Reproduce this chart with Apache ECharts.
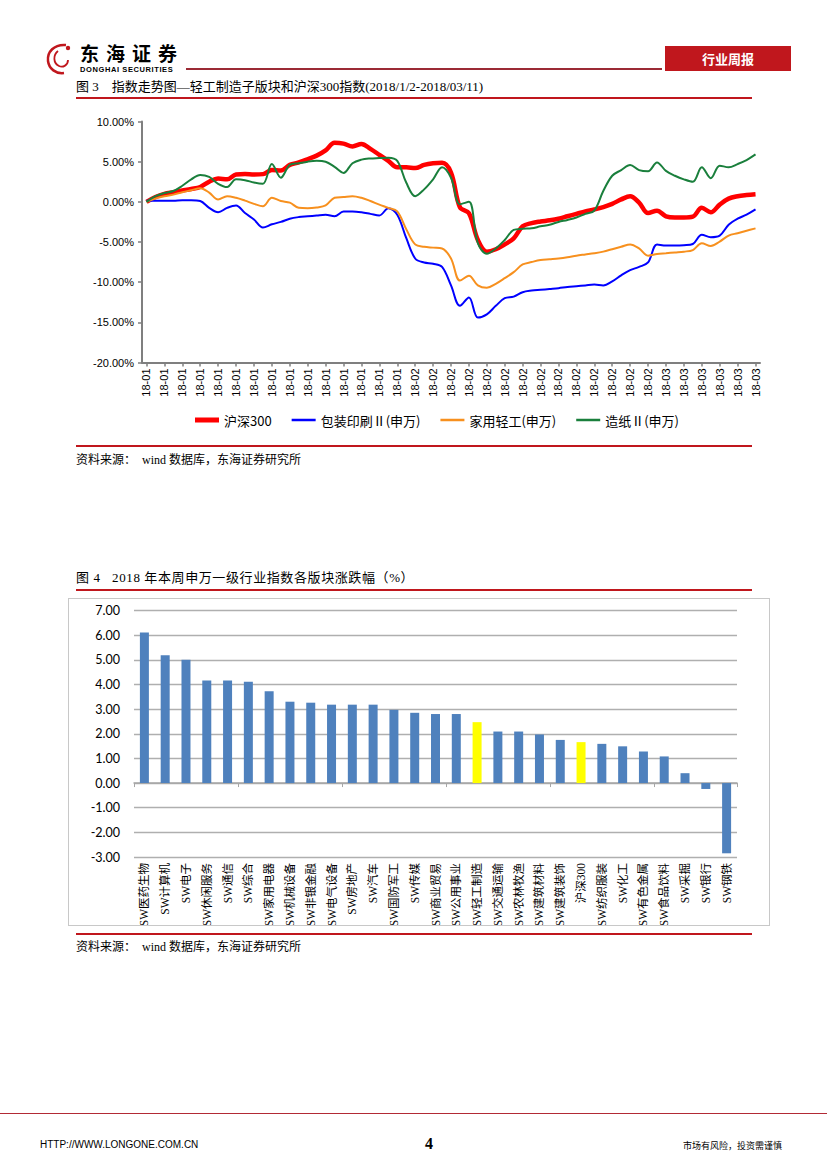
<!DOCTYPE html>
<html><head><meta charset="utf-8">
<script src="https://cdn.jsdelivr.net/npm/echarts@6.0.0/dist/echarts.min.js"></script>
<style>
html,body{margin:0;padding:0;background:#fff;}
#page{position:relative;width:827px;height:1170px;overflow:hidden;background:#fff;}
#c{position:absolute;left:0;top:0;width:827px;height:1170px;}
.t{position:absolute;white-space:nowrap;font-family:"Liberation Serif","Noto Sans CJK SC",serif;color:#000;}
.ln{position:absolute;}
</style></head>
<body><div id="page">
<div id="c"></div>
<!-- header -->
<svg class="ln" style="left:44px;top:42px" width="34" height="34" viewBox="0 0 34 34">
  <path d="M22 3 C10 2 3 10 4 19 C5 27 12 32 20 31" fill="none" stroke="#C0171D" stroke-width="2.5"/>
  <path d="M14 9 C9 13 9 21 15 24 C19 26 24 23 24 18" fill="none" stroke="#C0171D" stroke-width="1.8"/>
  <circle cx="24" cy="6" r="2.2" fill="#C0171D"/>
</svg>
<div class="t" style="left:80px;top:43px;font-family:'Noto Sans CJK SC';font-weight:bold;font-size:19px;letter-spacing:7px;line-height:20px;">东海证券</div>
<div class="t" style="left:80px;top:66px;font-family:'Liberation Sans';font-weight:bold;font-size:7.5px;line-height:8px;letter-spacing:0.6px;">DONGHAI SECURITIES</div>
<div class="ln" style="left:186px;top:68px;width:476px;height:1.5px;background:#9B2A35;"></div>
<div class="ln" style="left:665px;top:46px;width:126px;height:25px;background:#C0171D;"></div>
<div class="t" style="left:665px;top:46px;width:126px;text-align:center;line-height:25px;font-family:'Noto Sans CJK SC';font-weight:bold;font-size:13px;color:#fff;">行业周报</div>
<!-- figure 3 title -->
<div class="t" style="left:76px;top:79px;font-size:13px;line-height:16px;">图 3&nbsp;&nbsp;&nbsp;&nbsp;指数走势图—轻工制造子版块和沪深300指数(2018/1/2-2018/03/11)</div>
<div class="ln" style="left:76px;top:97px;width:676px;height:2px;background:#C0171D;"></div>
<div class="ln" style="left:76px;top:445px;width:676px;height:2px;background:#C0171D;"></div>
<div class="t" style="left:76px;top:453px;font-size:12px;line-height:15px;">资料来源：&nbsp;&nbsp;wind 数据库，东海证券研究所</div>
<!-- figure 4 title -->
<div class="t" style="left:76px;top:570px;font-size:13px;line-height:16px;letter-spacing:0.6px;">图 4&nbsp;&nbsp;&nbsp;2018 年本周申万一级行业指数各版块涨跌幅（%）</div>
<div class="ln" style="left:76px;top:589px;width:676px;height:2px;background:#C0171D;"></div>
<div class="ln" style="left:68px;top:598px;width:702px;height:328px;border:1px solid #C8C8C8;box-sizing:border-box;"></div>
<div class="ln" style="left:76px;top:933px;width:676px;height:2px;background:#C0171D;"></div>
<div class="t" style="left:76px;top:940px;font-size:12px;line-height:15px;">资料来源：&nbsp;&nbsp;wind 数据库，东海证券研究所</div>
<!-- footer -->
<div class="ln" style="left:0px;top:1113px;width:827px;height:1px;background:#B22A35;"></div>
<div class="t" style="left:40px;top:1139px;font-family:'Liberation Sans Narrow','Liberation Sans';font-size:10px;line-height:12px;">HTTP://WWW.LONGONE.COM.CN</div>
<div class="t" style="left:425px;top:1135px;font-weight:bold;font-size:16px;line-height:18px;">4</div>
<div class="t" style="left:683px;top:1140px;font-family:'Noto Sans CJK SC';font-size:9px;line-height:11px;">市场有风险，投资需谨慎</div>
</div>
<script>
// ---------- Figure 3 data (calendar days 2018-01-02 .. 2018-03-11), cumulative change in % ----------
const days = ['01-02','01-03','01-04','01-05','01-06','01-07','01-08','01-09','01-10','01-11','01-12','01-13','01-14','01-15','01-16','01-17','01-18','01-19','01-20','01-21','01-22','01-23','01-24','01-25','01-26','01-27','01-28','01-29','01-30','01-31',
 '02-01','02-02','02-03','02-04','02-05','02-06','02-07','02-08','02-09','02-10','02-11','02-12','02-13','02-14','02-15','02-16','02-17','02-18','02-19','02-20','02-21','02-22','02-23','02-24','02-25','02-26','02-27','02-28',
 '03-01','03-02','03-03','03-04','03-05','03-06','03-07','03-08','03-09','03-10','03-11'];
const seriesNames = ['沪深300','包装印刷Ⅱ(申万)','家用轻工(申万)','造纸Ⅱ(申万)'];
const hs300 = [0,0.6,1.0,1.2,1.4,1.6,1.85,2.5,2.9,2.8,3.4,3.45,3.4,3.45,3.95,3.9,4.6,4.9,5.3,5.75,6.4,7.35,7.25,6.9,7.2,6.6,5.85,5.1,4.3,4.3,
 4.2,4.6,4.8,4.85,3.65,-0.7,-1.4,-4.75,-6.2,-5.9,-5.3,-4.55,-3.05,-2.65,-2.45,-2.3,-2.1,-1.8,-1.5,-1.2,-0.95,-0.65,-0.25,0.3,0.7,-0.1,-1.4,-1.1,
 -1.8,-1.95,-1.95,-1.85,-0.75,-1.3,-0.35,0.4,0.7,0.85,0.95];
const baozhuang = [0.15,0.15,0.15,0.15,0.2,0.2,0.1,-0.75,-1.3,-0.75,-0.45,-1.4,-2.2,-3.2,-2.8,-2.5,-2.1,-1.9,-1.8,-1.7,-1.6,-1.8,-1.2,-1.2,-1.3,-1.5,-1.7,-0.8,-1.6,-4.5,
 -7.05,-7.55,-7.7,-8.1,-10.4,-12.95,-11.9,-14.4,-14.0,-12.95,-12.0,-11.8,-11.25,-11.05,-10.95,-10.85,-10.75,-10.6,-10.5,-10.4,-10.3,-10.4,-9.9,-9.15,-8.5,-8.1,-7.55,-5.3,
 -5.45,-5.45,-5.4,-5.25,-4.1,-4.4,-4.2,-2.85,-2.1,-1.6,-0.95];
const jiayong = [0,0.4,0.7,0.9,1.2,1.45,1.7,1.15,0.3,0.7,0.5,0.15,-0.25,-0.55,0.5,0.1,-0.1,-0.75,-0.8,-0.7,-0.45,0.5,0.6,0.7,0.5,0.1,-0.35,-0.75,-1.2,-3.4,
 -5.3,-5.6,-5.7,-5.8,-7.05,-9.8,-9.2,-10.4,-10.7,-10.2,-9.5,-8.75,-7.8,-7.5,-7.25,-7.15,-7.05,-6.9,-6.7,-6.55,-6.4,-6.2,-5.9,-5.6,-5.3,-5.8,-6.7,-6.5,
 -6.4,-6.3,-6.2,-6.0,-5.15,-5.5,-4.95,-4.2,-3.9,-3.6,-3.3];
const zaozhi = [0,0.7,1.1,1.35,2.0,2.8,3.35,3.1,2.25,1.85,2.8,2.7,2.4,2.25,4.7,3.0,4.6,4.8,5.0,5.1,5.0,4.35,3.6,4.8,5.25,5.4,5.45,5.5,5.1,2.4,
 0.7,1.55,2.8,4.3,3.0,-0.3,0.0,-5.15,-6.45,-5.8,-4.75,-3.5,-3.35,-3.3,-3.05,-2.85,-2.5,-2.25,-1.95,-1.5,-1.1,1.35,3.25,3.95,4.6,3.95,3.8,4.9,
 3.85,3.25,2.8,2.5,4.3,2.95,4.5,4.3,4.7,5.2,5.9];
const lineColors = ['#FF0000','#0000FF','#F7901E','#1A7F3C'];
const lineWidths = [4.5,2,2,2];

// ---------- Figure 4 data ----------
const industries = ['SW医药生物','SW计算机','SW电子','SW休闲服务','SW通信','SW综合','SW家用电器','SW机械设备','SW非银金融','SW电气设备','SW房地产','SW汽车','SW国防军工','SW传媒','SW商业贸易','SW公用事业','SW轻工制造','SW交通运输','SW农林牧渔','SW建筑材料','SW建筑装饰','沪深300','SW纺织服装','SW化工','SW有色金属','SW食品饮料','SW采掘','SW银行','SW钢铁'];
const weeklyChange = [6.11,5.18,5.00,4.16,4.16,4.11,3.72,3.30,3.26,3.18,3.18,3.18,2.97,2.85,2.80,2.80,2.47,2.09,2.09,1.97,1.75,1.66,1.59,1.49,1.28,1.08,0.40,-0.24,-2.85];
const highlighted = ['SW轻工制造','沪深300'];

const chart = echarts.init(document.getElementById('c'), null, {renderer:'svg', width:827, height:1170});
const sansFont = '"Liberation Sans", Arial, sans-serif';
const cjkFont = '"Noto Sans CJK SC", sans-serif';

// legend icons: horizontal bar inside a 24x14 box (corner points fix the bounding box)
const legendIcon = h => 'path://M0,0L0.01,0M0,' + (7 - h / 2) + 'h24v' + h + 'h-24zM24,14L23.99,14';

const option = {
  animation:false,
  backgroundColor:'transparent',
  legend:{
    data:seriesNames.map((n,i) => ({name:n, icon:legendIcon(i === 0 ? 5 : 2.5)})),
    left:190, top:408, itemGap:20, itemWidth:24, itemHeight:14,
    textStyle:{fontFamily:cjkFont, fontSize:13, color:'#000'}
  },
  grid:[
    {left:142, top:121.5, width:618, height:241},
    {left:134, top:610.5, width:603, height:246.5}
  ],
  xAxis:[
    {type:'category', gridIndex:0, data:days, boundaryGap:true,
     axisLine:{onZero:false, lineStyle:{color:'#7F7F7F', width:2}},
     axisTick:{show:true, interval:1, alignWithLabel:true, length:4, lineStyle:{color:'#7F7F7F', width:1.5}},
     axisLabel:{interval:1, rotate:90, margin:6, fontFamily:sansFont, fontSize:11, color:'#000',
       formatter:v => '18-' + v.slice(0,2)},
     splitLine:{show:false}},
    {type:'category', gridIndex:1, data:industries, position:'bottom',
     axisLine:{onZero:true, lineStyle:{color:'#A6A6A6', width:1.5}},
     axisTick:{show:true, length:4, lineStyle:{color:'#A6A6A6'}},
     axisLabel:{show:false}},
    {type:'category', gridIndex:1, data:industries, position:'bottom',
     axisLine:{show:false, onZero:false}, axisTick:{show:false},
     axisLabel:{interval:0, rotate:90, margin:6, fontFamily:'"Liberation Serif", "Noto Sans CJK SC", serif', fontSize:11.5, color:'#000'}}
  ],
  yAxis:[
    {type:'value', gridIndex:0, min:-20, max:10, interval:5,
     axisLine:{show:true, lineStyle:{color:'#7F7F7F', width:2}},
     axisTick:{show:true, length:4, lineStyle:{color:'#7F7F7F', width:1.5}},
     axisLabel:{margin:8, fontFamily:sansFont, fontSize:11, color:'#000', formatter:v => v.toFixed(2) + '%'},
     splitLine:{show:false}},
    {type:'value', gridIndex:1, min:-3, max:7, interval:1,
     axisLine:{show:false}, axisTick:{show:false},
     axisLabel:{margin:14, fontFamily:'Lato, "Open Sans", sans-serif', fontSize:12.5, color:'#000', formatter:v => v.toFixed(2)},
     splitLine:{show:true, lineStyle:{color:'#AFAFAF', width:1.3}}}
  ],
  series:[
    ...[hs300, baozhuang, jiayong, zaozhi].map((d,i) => ({
      name:seriesNames[i], type:'line', xAxisIndex:0, yAxisIndex:0, data:d,
      smooth:0.35, symbol:'none', showSymbol:false,
      lineStyle:{color:lineColors[i], width:lineWidths[i]}, itemStyle:{color:lineColors[i]}
    })),
    {name:'涨跌幅', type:'bar', xAxisIndex:1, yAxisIndex:1, barWidth:9,
     data:weeklyChange.map((v,i) => ({value:v, itemStyle:{color: highlighted.includes(industries[i]) ? '#FFFF00' : '#4F81BD'}}))}
  ]
};
chart.setOption(option);
</script>
</body></html>
